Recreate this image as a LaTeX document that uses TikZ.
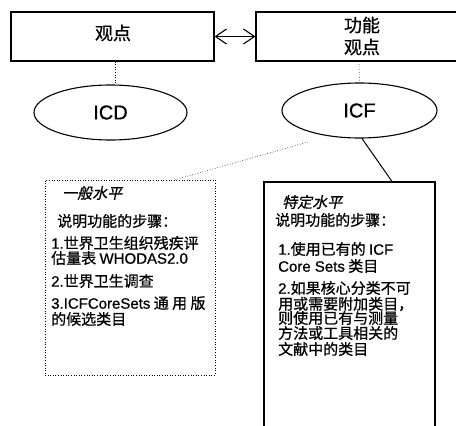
\documentclass[tikz,border=0pt]{standalone}
\usepackage{fontspec}
\setmainfont[FakeBold=0.7]{Noto Sans CJK SC}
\newfontfamily\cjkit[FakeSlant=0.22,FakeBold=0.7]{Noto Sans CJK SC}
\newfontfamily\lat[FakeBold=0.7]{Liberation Sans}
\usetikzlibrary{arrows.meta,shapes.geometric}
\begin{document}
\begin{tikzpicture}[x=1pt,y=-1pt,
  topbox/.style={draw, line width=1.1pt, inner sep=0pt, font=\fontsize{18}{20}\selectfont, align=center},
  oval/.style={draw, ellipse, line width=1.1pt, inner sep=0pt, font=\lat\fontsize{20}{22}\selectfont},
  txt/.style={anchor=west, inner sep=0pt, font=\fontsize{15}{15}\selectfont},
  conn/.style={line width=0.6pt, dotted},
]
\useasboundingbox (0,0) rectangle (456,426);
\clip (0,0) rectangle (456,426);
\fill[white] (0,0) rectangle (456,426);

% top boxes
\node[topbox, minimum width=203pt, minimum height=49pt] (b1) at (112.5,36.5) {};
\node[font=\fontsize{18}{20}\selectfont, inner sep=0pt] (t1) at (113,33) {观点};
\node[topbox, minimum width=224pt, minimum height=49pt] (b2) at (368,36.5) {};
\node[font=\fontsize{18}{22}\selectfont, align=center, inner sep=0pt] (t2) at (362,36) {功能\\观点};

\draw[line width=1.1pt, {Straight Barb[length=11pt,width=15pt]}-{Straight Barb[length=11pt,width=15pt]}] (b1.east) -- (b2.west);

% ellipses
\node[oval, minimum width=153pt, minimum height=55pt] (icd) at (110.5,112.5) {ICD};
\node[oval, minimum width=155pt, minimum height=55pt] (icf) at (359.5,110.5) {ICF};

\draw[conn] ([xshift=2.5pt]b1.south) -- ([xshift=4.5pt]icd.north);
\draw[conn] ([xshift=-9pt]b2.south) -- (icf.north);

% lower boxes
\node[draw, dotted, line width=0.6pt, minimum width=170pt, minimum height=195pt, inner sep=0pt] (gen) at (130,277.5) {};
\node[draw, line width=1.1pt, minimum width=171pt, minimum height=288pt, inner sep=0pt] (spec) at (349.5,326) {};

\coordinate (a) at (308,142);
\draw[conn] (a) -- ([xshift=45pt]gen.north);
\draw[line width=1pt] ([xshift=2.5pt]icf.south) -- ([xshift=42.5pt]spec.north);

% left box text
\node[txt] (g1) at (62,193) {\cjkit 一般水平};
\node[txt] (g2) at (57,221) {说明功能的步骤：};
\node[txt] (g3) at (51,243) {{\lat 1.}世界卫生组织残疾评};
\node[txt] (g4) at (51,258) {估量表 {\lat WHODAS2.0}};
\node[txt] (g5) at (51,281) {{\lat 2.}世界卫生调查};
\node[txt] (g6) at (51,303) {{\lat 3.ICFCoreSets} 通 用 版};
\node[txt] (g7) at (51,319) {的候选类目};

% right box text
\node[txt] (s1) at (282,202) {\cjkit 特定水平};
\node[txt] (s2) at (275,220) {说明功能的步骤：};
\node[txt] (s3) at (278,249) {{\lat 1.}使用已有的 {\lat ICF}};
\node[txt] (s4) at (278,266) {{\lat Core Sets} 类目};
\node[txt] (s5) at (278,288) {{\lat 2.}如果核心分类不可};
\node[txt] (s6) at (278,304) {用或需要附加类目，};
\node[txt] (s7) at (278,318) {则使用已有与测量};
\node[txt] (s8) at (278,333) {方法或工具相关的};
\node[txt] (s9) at (278,349) {文献中的类目};
\end{tikzpicture}
\end{document}
